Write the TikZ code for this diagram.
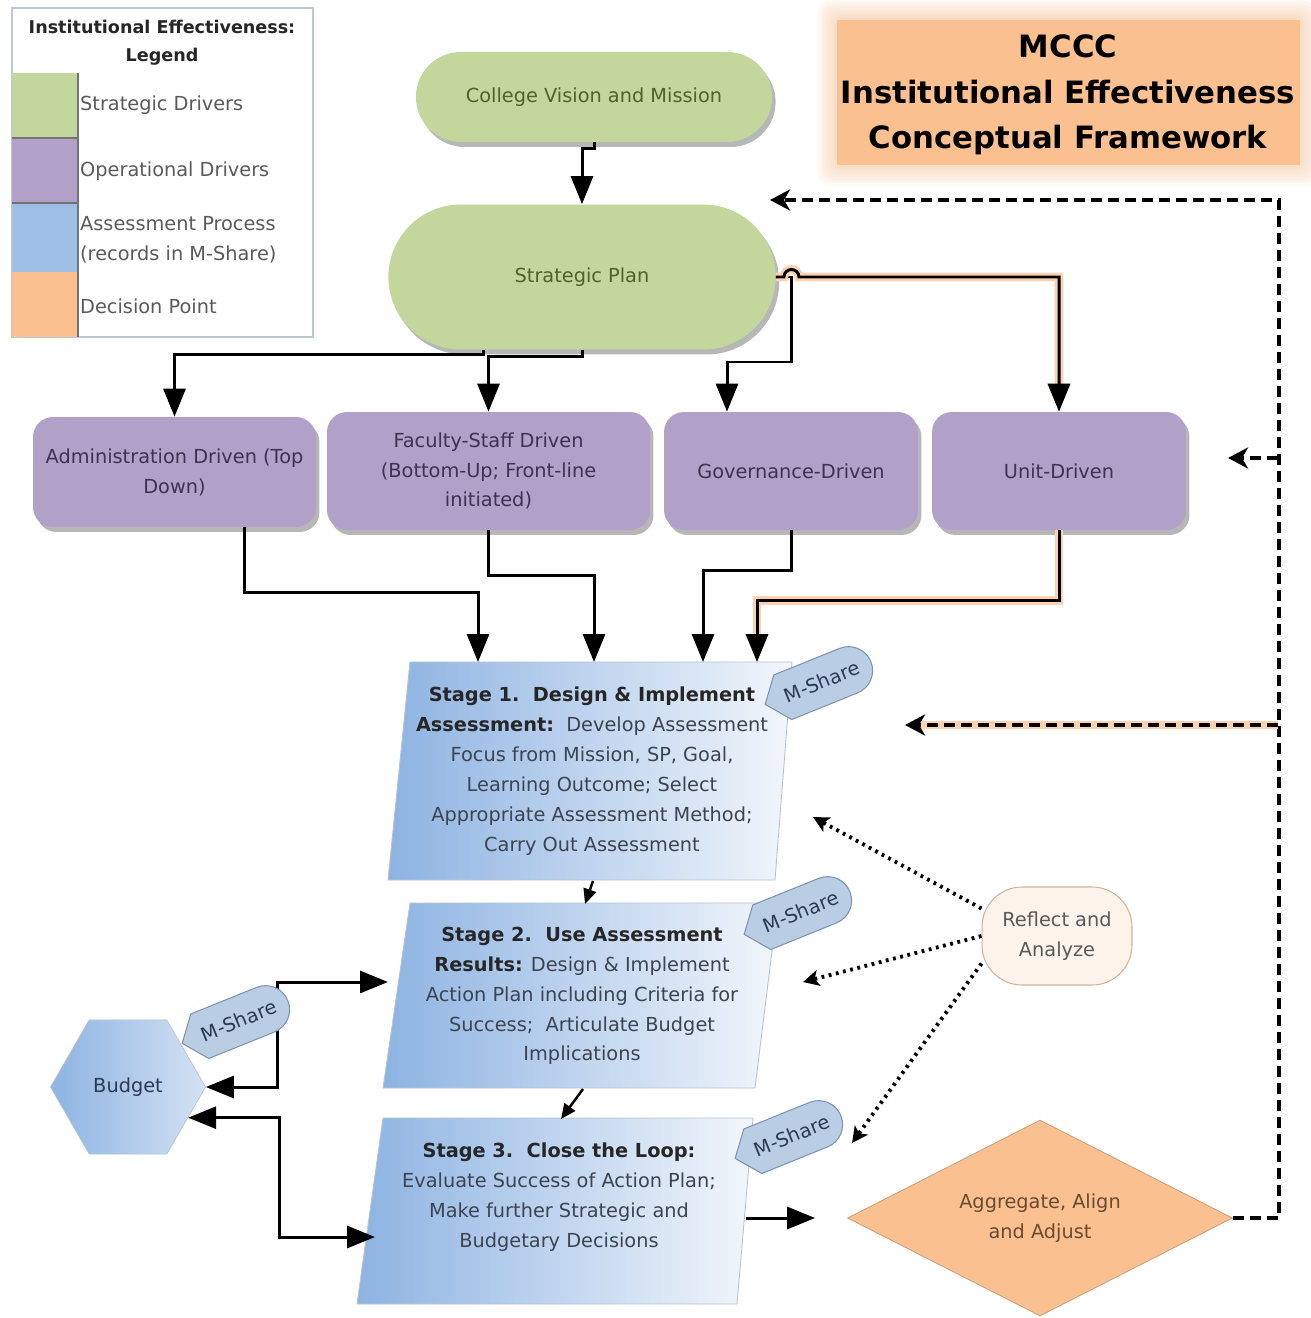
\documentclass[tikz,border=0pt]{standalone}
\usepackage{fontspec}
\setmainfont{DejaVu Sans}
\usetikzlibrary{arrows.meta,shapes.misc,shapes.geometric,shadows,calc}
\definecolor{grn}{HTML}{C3D69B}
\definecolor{grntxt}{HTML}{4F6228}
\definecolor{pur}{HTML}{B1A0C7}
\definecolor{purtxt}{HTML}{3F3151}
\definecolor{blu}{HTML}{8DB3E2}
\definecolor{bluhi}{HTML}{F2F6FB}
\definecolor{tag}{HTML}{B9CDE5}
\definecolor{tagline}{HTML}{7F93AE}
\definecolor{tagtxt}{HTML}{2B3A55}
\definecolor{org}{HTML}{FAC090}
\definecolor{orgglow}{HTML}{FBD3B0}
\definecolor{stxt}{HTML}{3D4450}
\definecolor{legtxt}{HTML}{5A5A5A}
\definecolor{legline}{HTML}{BCC8D6}
\definecolor{refl}{HTML}{FDF3EA}
\definecolor{reflline}{HTML}{CDB59F}
\definecolor{aggtxt}{HTML}{6B4A32}
\definecolor{diaedge}{HTML}{C8A27E}
\definecolor{stageedge}{HTML}{B8C3D1}
\newcommand\stb[1]{{\bfseries\color{black!85}#1}}
\tikzset{
 base/.style={font=\fontsize{11}{17}\selectfont, align=center},
 shad/.style={drop shadow={shadow xshift=0.07cm, shadow yshift=-0.1cm, opacity=0.35, fill=black!80}},
 greenbox/.style={base, rounded rectangle, fill=grn, text=grntxt, shad},
 purplebox/.style={base, rectangle, rounded corners=0.4cm, fill=pur, text=purtxt, shad},
 stagetext/.style={base, text=stxt},
 conn/.style={line width=1.7pt, -{Triangle[width=0.44cm,length=0.56cm]}},
 both/.style={line width=1.7pt, {Triangle[width=0.44cm,length=0.56cm]}-{Triangle[width=0.44cm,length=0.56cm]}},
 small/.style={line width=1.4pt, -{Triangle[width=0.26cm,length=0.3cm]}},
 glow/.style={preaction={draw=orgglow, line width=5pt, solid}},
 fb/.style={line width=2pt, dash pattern=on 0.22cm off 0.12cm, -{Stealth[width=0.42cm,length=0.4cm,inset=0.12cm]}},
 dots/.style={line width=2.2pt, dash pattern=on 1.6pt off 2.6pt, -{Stealth[width=0.32cm,length=0.32cm,inset=0.08cm]}},
 mshare/.pic={
   \filldraw[fill=tag, draw=tagline, line width=0.6pt] (-57,0) -- (-38,-24) -- (33,-24)
     arc[start angle=90,end angle=-90,radius=0.48cm] -- (-38,24) -- cycle;
   \node[base, text=tagtxt, transform shape, inner sep=0pt] (-t) at (4,0) {M-Share};
 }
}
\begin{document}
\begin{tikzpicture}[x=0.02cm, y=-0.02cm]
\useasboundingbox (0,0) rectangle (1311,1318);
\fill[white] (0,0) rectangle (1311,1318);

% ---------- legend ----------
\draw[draw=legline, fill=white, line width=0.8pt] (12,8) rectangle (313,337);
\node[font=\fontsize{10}{16}\selectfont\bfseries, align=center, text=black!85] (legtitle) at (162,43) {Institutional Effectiveness:\\Legend};
\fill[grn] (12,73) rectangle (78,138);
\fill[pur] (12,138) rectangle (78,203);
\fill[blu!85!white] (12,203) rectangle (78,272);
\fill[org] (12,272) rectangle (78,337);
\draw[black!55, line width=0.8pt] (12,138) -- (78,138) (12,203) -- (78,203) (78,73) -- (78,337);
\node[base, anchor=west, text=legtxt] (l1) at (74,105) {Strategic Drivers};
\node[base, anchor=west, text=legtxt] (l2) at (74,171) {Operational Drivers};
\node[base, anchor=west, text=legtxt, align=left] (l3) at (74,240) {Assessment Process\\(records in M-Share)};
\node[base, anchor=west, text=legtxt] (l4) at (74,306) {Decision Point};

% ---------- title ----------
\foreach \i in {1,...,8}
  \fill[org, opacity=0.08, rounded corners=0.2cm] (837-2.5*\i,20-2.5*\i) rectangle (1300+2.5*\i,165+2.5*\i);
\fill[org] (837,20) rectangle (1300,165);
\node[font=\fontsize{17.5}{26}\selectfont\bfseries, align=center, text=black] (title) at (1068,95)
  {MCCC\\Institutional Effectiveness\\Conceptual Framework};

% ---------- strategic ----------
\node[greenbox, minimum width=7.36cm, minimum height=1.8cm] (cvm) at (594,97) {College Vision and Mission};
\node[greenbox, minimum width=7.98cm, minimum height=2.9cm] (sp) at (582,277) {Strategic Plan};

% ---------- operational ----------
\node[purplebox, minimum width=5.66cm, minimum height=2.2cm] (admin) at (174.5,472) {Administration Driven (Top\\Down)};
\node[purplebox, minimum width=6.46cm, minimum height=2.36cm] (fac) at (488.5,471) {Faculty-Staff Driven\\(Bottom-Up; Front-line\\initiated)};
\node[purplebox, minimum width=5.08cm, minimum height=2.36cm] (gov) at (791,471) {Governance-Driven};
\node[purplebox, minimum width=5.08cm, minimum height=2.36cm] (unit) at (1059,471) {Unit-Driven};

% ---------- stages ----------
\shade[left color=blu, right color=bluhi, draw=stageedge, line width=0.5pt] (410,662) -- (792,662) -- (775,880) -- (388,880) -- cycle;
\shade[left color=blu, right color=bluhi, draw=stageedge, line width=0.5pt] (410,903) -- (778,903) -- (755,1088) -- (383,1088) -- cycle;
\shade[left color=blu, right color=bluhi, draw=stageedge, line width=0.5pt] (383,1118) -- (753,1118) -- (737,1304) -- (357,1304) -- cycle;

\node[stagetext] (s1) at (592,771) {\stb{Stage 1.\ \ Design \& Implement}\\\stb{Assessment:}\ \ Develop Assessment\\Focus from Mission, SP, Goal,\\Learning Outcome; Select\\Appropriate Assessment Method;\\Carry Out Assessment};
\node[stagetext] (s2) at (582,996) {\stb{Stage 2.\ \ Use Assessment}\\\stb{Results:} Design \& Implement\\Action Plan including Criteria for\\Success;\ \ Articulate Budget\\Implications};
\node[stagetext] (s3) at (559,1197) {\stb{Stage 3.\ \ Close the Loop:}\\Evaluate Success of Action Plan;\\Make further Strategic and\\Budgetary Decisions};

\coordinate (s1in1) at (478,662);
\coordinate (s1in2) at (594,662);
\coordinate (s1in3) at (703,662);
\coordinate (s1in4) at (757,662);
\coordinate (s1bot) at (593,881);
\coordinate (s2top) at (585,904);
\coordinate (s2bot) at (583,1089);
\coordinate (s3top) at (561,1119);
\coordinate (s2l) at (388,982);
\coordinate (s3l) at (375,1237);
\coordinate (s3r) at (746,1218);
\coordinate (fbtop) at (770,200);
\coordinate (fbunit) at (1228,458);
\coordinate (fbs1) at (905,725);
\coordinate (r1) at (813,817);
\coordinate (r2) at (803,982);
\coordinate (r3) at (852,1143);

% ---------- budget, reflect, decision ----------
\node[base, regular polygon, regular polygon sides=6, minimum size=3.1cm, inner sep=0pt,
  left color=blu, right color=bluhi!70!blu, draw=stageedge, text=tagtxt] (bud) at (128,1087) {Budget};
\node[base, rectangle, rounded corners=0.8cm, fill=refl, draw=reflline, line width=0.6pt, text=legtxt,
  minimum width=3cm, minimum height=1.96cm] (ref) at (1057,936) {Reflect and\\Analyze};
\node[base, diamond, aspect=2, fill=org, draw=diaedge, line width=0.5pt, text=aggtxt, inner sep=0pt,
  minimum width=7.7cm, minimum height=3.92cm] (dia) at (1040,1218) {Aggregate, Align\\and Adjust};

% ---------- connectors ----------
\draw[conn] (cvm.south) -- ++(0,6) -| (sp.north);
\draw[conn] ($(sp.south)+(-99,0)$) -- ++(0,5) -| (admin.north);
\draw[conn] (sp.south) -- ++(0,7) -| (fac.north);
\draw[conn] (sp.east) -- ++(15.5,0) -- ++(0,85) -| ($(gov.north)+(-64,0)$);
\draw[conn, glow] (sp.east) -- ++(8,0) arc[start angle=180,end angle=0,radius=0.15cm] -| (unit.north);

\draw[conn] ($(admin.south)+(70,0)$) -- ++(0,65) -| (s1in1);
\draw[conn] (fac.south) -- ++(0,45) -| (s1in2);
\draw[conn] (gov.south) -- ++(0,40) -| (s1in3);
\draw[conn, glow] (unit.south) -- ++(0,70) -| (s1in4);

\draw[small] (s1bot) -- (s2top);
\draw[small] (s2bot) -- (s3top);

\draw[both] (bud.east) -- ++(71.5,0) |- (s2l);
\draw[both] (bud.-27) -- ++(91,0) |- (s3l);
\draw[conn, shorten >=0.64cm] (s3r) -- (dia.west);

\draw[fb] (dia.east) -- ++(46,0) |- (fbtop);
\draw[fb] (1278,458) -- (fbunit);
\draw[fb, glow] (1278,725) -- (fbs1);

\draw[dots] (ref.160) -- (r1);
\draw[dots] (ref.west) -- (r2);
\draw[dots] (ref.200) -- (r3);

% ---------- M-Share tags ----------
\pic[rotate=22] (ms1) at (818,683) {mshare};
\pic[rotate=22] (ms2) at (797,913) {mshare};
\pic[rotate=22] (ms3) at (788,1137) {mshare};
\pic[rotate=22] (ms4) at (235,1022) {mshare};
\end{tikzpicture}
\end{document}
